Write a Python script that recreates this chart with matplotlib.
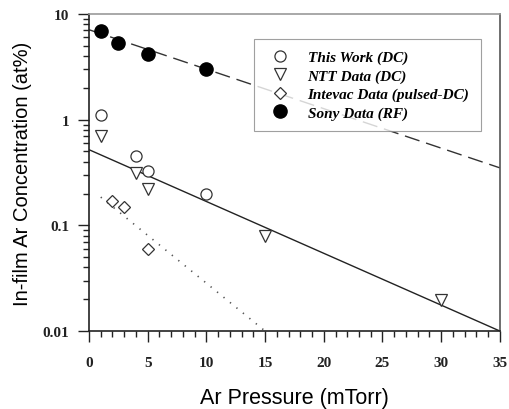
import numpy as np
import matplotlib
matplotlib.use("Agg")
import matplotlib.pyplot as plt
from matplotlib.ticker import MultipleLocator, LogLocator, NullFormatter, FixedLocator, FixedFormatter

# data (pressure in mTorr, Ar in at%)
this_work_x = [1, 4, 5, 10]
this_work_y = [1.1, 0.45, 0.33, 0.20]

ntt_x = [1, 4, 5, 15, 30]
ntt_y = [0.70, 0.31, 0.22, 0.08, 0.0195]

intevac_x = [2, 3, 5]
intevac_y = [0.17, 0.15, 0.06]

sony_x = [1, 2.5, 5, 10]
sony_y = [6.9, 5.3, 4.2, 3.05]

# fit lines (end points)
sony_fit_x = [0, 35]
sony_fit_y = [7.1, 0.35]
dc_fit_x = [0, 35]
dc_fit_y = [0.52, 0.01]
intevac_fit_x = [1, 15]
intevac_fit_y = [0.185, 0.01]

x_ticks = [0, 5, 10, 15, 20, 25, 30, 35]
y_ticks = [0.01, 0.1, 1, 10]
y_tick_labels = ["0.01", "0.1", "1", "10"]

fig = plt.figure(figsize=(5.09, 4.10), dpi=100)
ax = fig.add_axes([0.1749, 0.1902, 0.8071, 0.7732])

ax.plot(sony_fit_x, sony_fit_y, color="#333333", lw=1.0, dashes=(11, 5))
ax.plot(dc_fit_x, dc_fit_y, color="#222222", lw=1.0)
ax.plot(intevac_fit_x, intevac_fit_y, color="#555555", lw=1.2, dashes=(0.8, 4.2))

ax.plot(this_work_x, this_work_y, "o", ms=8, mfc="white", mec="#333333", mew=0.9,
        label="This Work (DC)", zorder=5)
ax.plot(ntt_x, ntt_y, "v", ms=8, mfc="white", mec="#333333", mew=0.9,
        label="NTT Data (DC)", zorder=5)
ax.plot(intevac_x, intevac_y, "D", ms=6.3, mfc="white", mec="#333333", mew=0.9,
        label="Intevac Data (pulsed-DC)", zorder=5)
ax.plot(sony_x, sony_y, "o", ms=9.5, mfc="black", mec="black",
        label="Sony Data (RF)", zorder=5)

ax.set_yscale("log")
ax.set_xlim(0, 35)
ax.set_ylim(0.01, 10)

ax.xaxis.set_major_locator(FixedLocator(x_ticks))
ax.xaxis.set_minor_locator(MultipleLocator(1))
ax.yaxis.set_major_locator(FixedLocator(y_ticks))
ax.yaxis.set_major_formatter(FixedFormatter(y_tick_labels))
ax.yaxis.set_minor_locator(LogLocator(base=10, subs=np.arange(2, 10)))
ax.yaxis.set_minor_formatter(NullFormatter())

ax.tick_params(which="major", direction="out", length=8, width=1.0, color="#222222")
ax.tick_params(which="minor", direction="out", length=4, width=1.0, color="#222222")
ax.tick_params(axis="x", pad=10)
ax.tick_params(axis="y", pad=6)
for lab in ax.get_xticklabels() + ax.get_yticklabels():
    lab.set_fontfamily("Liberation Serif")
    lab.set_fontweight("bold")
    lab.set_fontsize(11)
    lab.set_color("#222222")

ax.spines["left"].set_color("#222222")
ax.spines["bottom"].set_color("#222222")
ax.spines["top"].set_color("#999999")
ax.spines["right"].set_color("#555555")
for s in ax.spines.values():
    s.set_linewidth(1.2)

ax.set_xlabel("Ar Pressure (mTorr)", fontfamily="Liberation Sans", fontsize=15.5, labelpad=13)
ax.set_ylabel("In-film Ar Concentration (at%)", fontfamily="Liberation Sans", fontsize=14.5, labelpad=8)

leg = ax.legend(loc="upper left", bbox_to_anchor=(0.401, 0.921), borderaxespad=0,
                frameon=True, fancybox=False, edgecolor="#888888", borderpad=0.75,
                handlelength=2.0, handletextpad=0.77, labelspacing=0.3,
                prop={"family": "Liberation Serif", "style": "italic", "weight": "bold", "size": 11})
leg.get_frame().set_linewidth(0.8)

fig.savefig("out.png", dpi=100)
